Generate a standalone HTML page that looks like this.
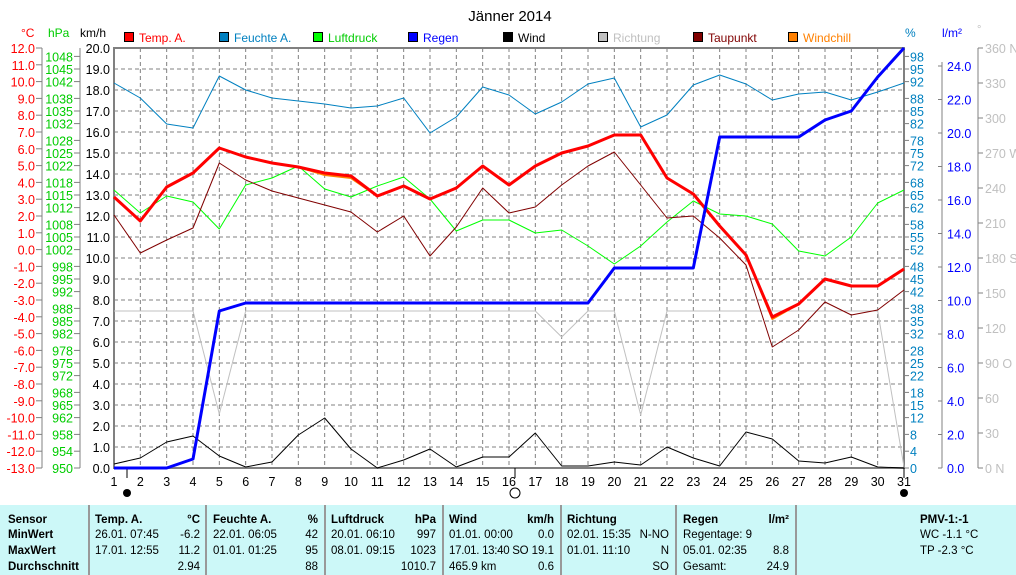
<!DOCTYPE html>
<html><head><meta charset="utf-8"><style>
body{margin:0;background:#fff;width:1016px;height:575px;overflow:hidden;font-family:"Liberation Sans",sans-serif}
svg{position:absolute;left:0;top:0}
#tb{position:absolute;left:0;top:505px;width:1016px;height:70px;background:#ccf8f8;font-size:11.5px}
#tb div{position:absolute;white-space:nowrap}
.b{font-weight:bold}
.sep{position:absolute;top:0;width:2px;height:70px;background:#999}
</style></head><body>
<svg id="s" width="1016" height="505" font-family="Liberation Sans, sans-serif"></svg>
<div id="tb"></div>
<script>
const s=document.getElementById('s');let h='';
const X=d=>114+(d-1)*790/30;
h+='<text x="510" y="21" font-size="15" text-anchor="middle">Jänner 2014</text>';
for(let d=2;d<=30;d++)h+=`<line x1="${X(d)}" y1="48" x2="${X(d)}" y2="468" stroke="#808080" stroke-dasharray="4,3"/>`;
for(let i=1;i<20;i++){let y=48+i*21;h+=`<line x1="114" y1="${y}" x2="904" y2="${y}" stroke="#808080" stroke-dasharray="4,3"/>`;}
h+='<rect x="114" y="48" width="790" height="420" fill="none" stroke="#808080" stroke-width="2"/>';
h+='<line x1="42" y1="48" x2="42" y2="468" stroke="#808080"/><line x1="80" y1="48" x2="80" y2="468" stroke="#808080"/>';
for(let t=12;t>=-13;t--){let y=468-(t+13)*16.8;h+=`<line x1="36" y1="${y}" x2="42" y2="${y}" stroke="#808080"/><text x="35" y="${y+5}" font-size="12.5" fill="#f00" text-anchor="end">${t.toFixed(1)}</text>`;}
[950,954,958,962,965,968,972,975,978,982,985,988,992,995,998,1002,1005,1008,1012,1015,1018,1022,1025,1028,1032,1035,1038,1042,1045,1048].forEach(v=>{let y=468-(v-950)*4.2;h+=`<line x1="74" y1="${y}" x2="80" y2="${y}" stroke="#808080"/><text x="73" y="${y+5}" font-size="12.5" fill="#0c0" text-anchor="end">${v}</text>`;});
for(let k=0;k<=20;k++){let y=468-k*21;h+=`<text x="110" y="${y+5}" font-size="12.5" text-anchor="end">${k.toFixed(1)}</text>`;}
h+='<text x="21" y="37" font-size="12" fill="#f00">°C</text><text x="48" y="37" font-size="12" fill="#0c0">hPa</text><text x="80" y="37" font-size="12">km/h</text>';
h+='<text x="905" y="37" font-size="12" fill="#0080c0">%</text><text x="942" y="37" font-size="12" fill="#00f">l/m²</text><text x="977" y="33" font-size="11" fill="#c0c0c0">°</text>';
[0,4,8,12,15,18,22,25,28,32,35,38,42,45,48,52,55,58,62,65,68,72,75,78,82,85,88,92,95,98].forEach(v=>{let y=468-v*4.2;h+=`<line x1="904" y1="${y}" x2="909" y2="${y}" stroke="#808080"/><text x="910" y="${y+5}" font-size="12.5" fill="#0080c0">${v}</text>`;});
h+='<line x1="942" y1="62" x2="942" y2="468" stroke="#808080"/><line x1="978" y1="48" x2="978" y2="468" stroke="#808080"/>';
for(let r=0;r<=24;r+=2){let y=468-r*16.75;h+=`<line x1="938" y1="${y}" x2="942" y2="${y}" stroke="#808080"/><text x="947" y="${y+5}" font-size="12.5" fill="#00f">${r.toFixed(1)}</text>`;}
const dn={0:'N',90:'O',180:'S',270:'W',360:'N'};
for(let a=0;a<=360;a+=30){let y=468-a*35/30;h+=`<line x1="978" y1="${y}" x2="983" y2="${y}" stroke="#808080"/><text x="985" y="${y+5}" font-size="12.5" fill="#c0c0c0">${a}${dn[a]!==undefined?'  '+dn[a]:''}</text>`;}
for(let d=1;d<=31;d++)h+=`<text x="${X(d)}" y="486" font-size="12.5" text-anchor="middle">${d}</text>`;
h+='<line x1="127" y1="468" x2="127" y2="478" stroke="#000"/><circle cx="127" cy="493" r="4" fill="#000"/>';
h+='<line x1="515" y1="468" x2="515" y2="478" stroke="#000"/><circle cx="515" cy="493" r="5" fill="none" stroke="#000"/>';
h+='<line x1="904" y1="468" x2="904" y2="478" stroke="#000"/><circle cx="904" cy="493" r="4" fill="#000"/>';
[['Temp. A.','#f00','#f00',124],['Feuchte A.','#0080c0','#0080c0',219],['Luftdruck','#0f0','#0c0',313],['Regen','#00f','#00f',408],['Wind','#000','#000',503],['Richtung','#c0c0c0','#c0c0c0',598],['Taupunkt','#800000','#800000',693],['Windchill','#ff8000','#ff8000',788]].forEach(l=>{h+=`<rect x="${l[3]+0.5}" y="32.5" width="9" height="9" fill="${l[1]}" stroke="#000"/><text x="${l[3]+15}" y="42" font-size="12" fill="${l[2]}">${l[0]}</text>`;});
const P=(a,c,w)=>{h+=`<polyline fill="none" stroke="${c}" stroke-width="${w}" stroke-linejoin="round" points="${a.map((y,i)=>X(i+1).toFixed(1)+','+y).join(' ')}"/>`;};
P([311,311,311,311,414,311,311,311,311,311,311,311,311,311,311,311,311,337,311,311,415,311,311,311,311,311,311,311,311,311,467],'#c0c0c0',1);
P([464,458,442,436,456,467,462,435,418,449,468,460,449,467,457,457,433,466,466,462,465,447,458,466,432,439,461,463,457,467,468],'#000',1);
P([83,98,124,128,76,90,98,101,104,108,106,98,133,117,87,95,114,102,84,78,127,115,85,75,84,100,94,92,100,92,83],'#0080c0',1);
P([190,213,196,202,229,185,178,166,189,197,186,177,199,231,220,220,233,230,246,264,246,222,201,214,216,224,251,256,237,203,190],'#0f0',1);
P([215,253,240,228,163,180,191,198,205,212,232,216,256,227,188,213,207,185,166,152,185,218,216,238,265,347,330,302,315,310,290],'#800000',1);
const tp=[197,221,187,173,148,157,163,167,173,176,196,186,199,188,166,185,166,153,146,135,135,178,194,226,255,317,304,279,286,286,269];
P(tp.map((y,i)=>(i==8||i==9||i==25)?y+2:y),'#ff8000',2);
P(tp,'#f00',3);
P([468,468,468,459,311,303,303,303,303,303,303,303,303,303,303,303,303,303,303,268,268,268,268,137,137,137,137,120,111,77,48],'#00f',3);
s.innerHTML=h;
const t=document.getElementById('tb');let g='';
[88,205,324,442,560,675,795].forEach(x=>g+=`<span class="sep" style="left:${x}px"></span>`);
const D=(x,y,tx,b,al)=>{g+=`<div class="${b?'b':''}" style="${al?'right:'+(1016-x)+'px':'left:'+x+'px'};top:${y}px">${tx}</div>`;};
const R=[9,24,40,56];
['Sensor','MinWert','MaxWert','Durchschnitt'].forEach((v,i)=>D(8,R[i],v,1));
D(95,R[0],'Temp. A.',1);D(200,R[0],'°C',1,1);D(95,R[1],'26.01.  07:45');D(200,R[1],'-6.2',0,1);D(95,R[2],'17.01.  12:55');D(200,R[2],'11.2',0,1);D(200,R[3],'2.94',0,1);
D(213,R[0],'Feuchte A.',1);D(318,R[0],'%',1,1);D(213,R[1],'22.01.  06:05');D(318,R[1],'42',0,1);D(213,R[2],'01.01.  01:25');D(318,R[2],'95',0,1);D(318,R[3],'88',0,1);
D(331,R[0],'Luftdruck',1);D(436,R[0],'hPa',1,1);D(331,R[1],'20.01.  06:10');D(436,R[1],'997',0,1);D(331,R[2],'08.01.  09:15');D(436,R[2],'1023',0,1);D(436,R[3],'1010.7',0,1);
D(449,R[0],'Wind',1);D(554,R[0],'km/h',1,1);D(449,R[1],'01.01.  00:00');D(554,R[1],'0.0',0,1);D(449,R[2],'<span style="letter-spacing:-0.3px">17.01. 13:40 SO</span>');D(554,R[2],'19.1',0,1);D(449,R[3],'465.9 km');D(554,R[3],'0.6',0,1);
D(567,R[0],'Richtung',1);D(567,R[1],'02.01.  15:35');D(669,R[1],'N-NO',0,1);D(567,R[2],'01.01.  11:10');D(669,R[2],'N',0,1);D(669,R[3],'SO',0,1);
D(683,R[0],'Regen',1);D(789,R[0],'l/m²',1,1);D(683,R[1],'Regentage: 9');D(683,R[2],'05.01.  02:35');D(789,R[2],'8.8',0,1);D(683,R[3],'Gesamt:');D(789,R[3],'24.9',0,1);
g+=`<div class="b" style="left:920px;top:${R[0]}px">PMV-1:-1</div><div style="left:920px;top:${R[1]}px">WC -1.1 °C</div><div style="left:920px;top:${R[2]}px">TP -2.3 °C</div>`;
t.innerHTML=g;
</script>
</body></html>
